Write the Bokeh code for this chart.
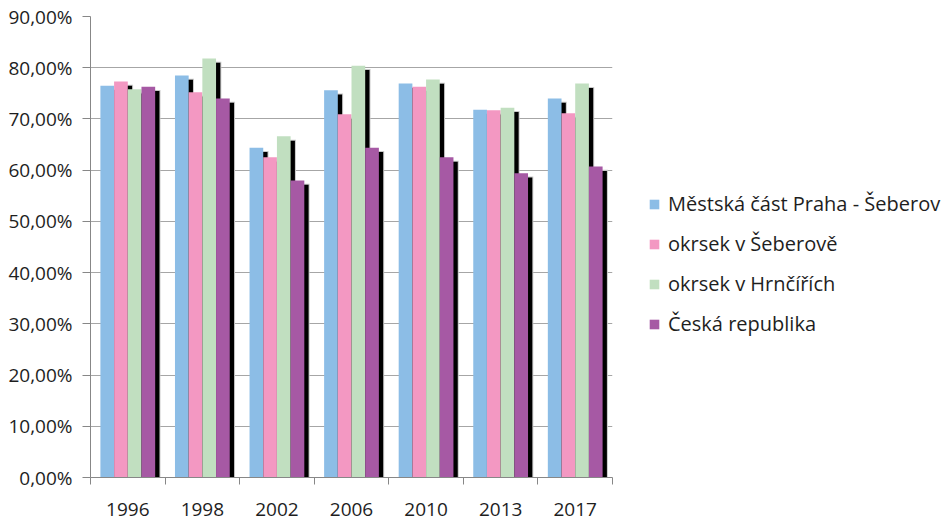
from bokeh.plotting import figure
from bokeh.models import ColumnDataSource, Range1d, FixedTicker, Legend, LegendItem
from bokeh.transform import dodge
from bokeh.embed import file_html
from bokeh.resources import INLINE

years = ["1996", "1998", "2002", "2006", "2010", "2013", "2017"]
mestska = [76.5, 78.5, 64.4, 75.6, 76.9, 71.8, 74.0]
seberov = [77.3, 75.2, 62.5, 70.9, 76.3, 71.7, 71.1]
hrncire = [75.8, 81.8, 66.6, 80.4, 77.7, 72.2, 76.9]
cesko = [76.3, 74.0, 58.0, 64.4, 62.5, 59.4, 60.7]
series_names = ["Městská část Praha - Šeberov", "okrsek v Šeberově",
                "okrsek v Hrnčířích", "Česká republika"]
series_values = [mestska, seberov, hrncire, cesko]
colors = ["#8CBDE6", "#F398C2", "#C1DFC0", "#A659A4"]
y_ticks = list(range(0, 91, 10))
y_tick_labels = [f"{t},00%" for t in y_ticks]

FONT = "Open Sans"
TXT = "#1e1e1e"
AXC = "#878787"

p = figure(frame_width=522, frame_height=461, output_backend="svg",
           toolbar_location=None, x_range=Range1d(0, len(years)),
           y_range=Range1d(0, 90), min_border_left=90, min_border_top=16,
           min_border_bottom=44, min_border_right=10)
p.outline_line_color = None
p.background_fill_color = "white"

bw = 0.1836       # bar width in category units
sx = 0.0577       # shadow x offset
sy = 0.84         # shadow y offset (downwards)
fx = 0.0134       # fringe
fy = 0.2

xs = [i + 0.5 for i in range(len(years))]
items = []
for j, (name, vals) in enumerate(zip(series_names, series_values)):
    src = ColumnDataSource(dict(x=xs, top=vals))
    off = (j - 1.5) * bw
    p.vbar(x=dodge("x", off + sx), top=dodge("top", -sy + fy), width=bw + 2 * fx,
           bottom=0, source=src, fill_color="#C8C8C8", line_color=None)
    p.vbar(x=dodge("x", off + sx), top=dodge("top", -sy), width=bw,
           bottom=0, source=src, fill_color="black", line_color=None)
    r = p.vbar(x=dodge("x", off), top="top", width=bw, bottom=0, source=src,
               fill_color=colors[j], line_color=None)
    items.append(LegendItem(label=name, renderers=[r]))

# x axis
xa = p.xaxis[0]
xa.ticker = FixedTicker(ticks=xs, minor_ticks=list(range(len(years) + 1)))
xa.major_label_overrides = {x: y for x, y in zip(xs, years)}
xa.major_tick_out = 0
xa.major_tick_in = 0
xa.minor_tick_out = 7
xa.minor_tick_in = 0
xa.minor_tick_line_color = AXC
xa.axis_line_color = AXC
xa.major_label_standoff = 18
xa.major_label_text_font = FONT
xa.major_label_text_font_size = "19px"
xa.major_label_text_color = TXT

# y axis
ya = p.yaxis[0]
ya.ticker = FixedTicker(ticks=y_ticks)
ya.major_label_overrides = {t: l for t, l in zip(y_ticks, y_tick_labels)}
ya.major_tick_out = 8
ya.major_tick_in = 0
ya.minor_tick_line_color = None
ya.major_tick_line_color = AXC
ya.axis_line_color = AXC
ya.major_label_standoff = 10
ya.major_label_text_font = FONT
ya.major_label_text_font_size = "19px"
ya.major_label_text_color = TXT

p.xgrid.grid_line_color = None
p.ygrid.grid_line_color = "#A6A6A6"

legend = Legend(items=items, location=(36, 140), margin=0, padding=0,
                spacing=13, label_height=20, glyph_height=12, glyph_width=12,
                label_standoff=8, border_line_color=None,
                background_fill_alpha=0, label_text_font=FONT,
                label_text_font_size="20px", label_text_color=TXT)
p.add_layout(legend, "right")

open("out.html", "w").write(file_html(p, INLINE))
